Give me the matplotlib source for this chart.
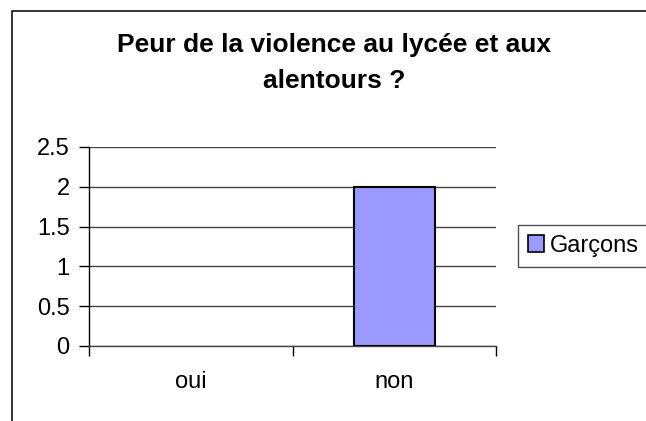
import matplotlib
matplotlib.use("Agg")
import matplotlib.pyplot as plt
from matplotlib.lines import Line2D
from matplotlib.patches import Patch

categories = ["oui", "non"]
garcons = [0, 2]
yticks = [0, 0.5, 1, 1.5, 2, 2.5]
ytick_labels = ["0", "0.5", "1", "1.5", "2", "2.5"]
title = "Peur de la violence au lycée et aux\nalentours ?"
series_name = "Garçons"

plt.rcParams['font.family'] = ['Liberation Sans', 'DejaVu Sans']

W, H = 646, 421
fig = plt.figure(figsize=(W / 100, H / 100), dpi=100)
fig.patch.set_facecolor("white")

# outer chart-area border (only top and left visible in the crop)
fig.add_artist(Line2D([12 / W, 12 / W, 1.0], [0.0, 1 - 11 / H, 1 - 11 / H],
                      transform=fig.transFigure, color="#222222", lw=1.3))

left, right, top, bottom = 89 / W, 496 / W, 1 - 147 / H, 1 - 346 / H
ax = fig.add_axes([left, bottom, right - left, top - bottom])

x = list(range(len(categories)))
ax.bar(x, garcons, width=0.4, color="#9999FF", edgecolor="black",
       linewidth=[1.5 if v > 0 else 0 for v in garcons],
       zorder=3, label=series_name)

ax.set_xlim(-0.5, len(categories) - 0.5)
ax.set_ylim(0, 2.5)
ax.set_yticks(yticks)
ax.set_yticklabels(ytick_labels)
ax.yaxis.grid(True, color="#444444", linewidth=1.0, zorder=0)
ax.set_axisbelow(True)

# x ticks at category boundaries, labels centred on categories
ax.set_xticks([-0.5 + i for i in range(len(categories) + 1)])
ax.set_xticklabels([])
ax.set_xticks(x, minor=True)
ax.set_xticklabels(categories, minor=True)
ax.tick_params(axis="x", which="minor", length=0, pad=18, labelsize=17)
ax.tick_params(axis="x", which="major", length=7, width=1, color="black", direction="out")
ax.tick_params(axis="y", length=7, width=1, color="black", direction="out", pad=7, labelsize=17)

for s in ["top", "right"]:
    ax.spines[s].set_visible(False)
ax.spines["left"].set_color("black")
ax.spines["left"].set_linewidth(1.0)
ax.spines["bottom"].set_color("#444444")
ax.spines["bottom"].set_linewidth(1.0)

fig.text(334 / W, 1 - 63 / H, title, ha="center", va="center",
         fontsize=19, fontweight="bold", linespacing=1.65)

leg = fig.legend(handles=[Patch(facecolor="#9999FF", edgecolor="black", linewidth=1.2,
                                label=series_name)],
                 loc="upper left", bbox_to_anchor=(518 / W, 1 - 225 / H),
                 bbox_transform=fig.transFigure, frameon=True, fancybox=False,
                 fontsize=17, handlelength=0.7, handleheight=0.7, handletextpad=0.25,
                 borderpad=0.42, borderaxespad=0)
leg.get_frame().set_edgecolor("#222222")
leg.get_frame().set_linewidth(1.0)

fig.savefig("out.png", dpi=100, facecolor="white")
